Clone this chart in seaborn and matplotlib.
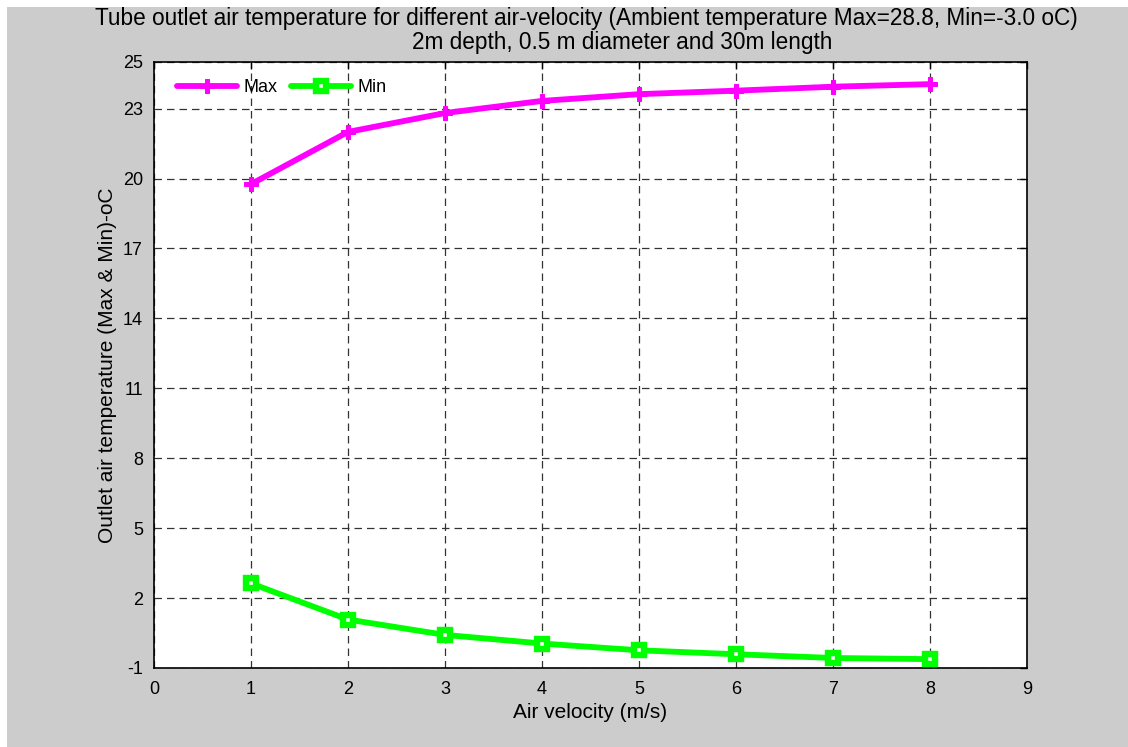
import matplotlib
matplotlib.use("Agg")
import matplotlib.pyplot as plt
import seaborn as sns
import pandas as pd
from matplotlib.patches import Rectangle

# data
velocity = [1, 2, 3, 4, 5, 6, 7, 8]
t_max = [19.76, 22.0, 22.81, 23.33, 23.62, 23.77, 23.94, 24.05]
t_min = [2.63, 1.08, 0.42, 0.05, -0.24, -0.41, -0.57, -0.62]
y_ticks = [-1, 2, 5, 8, 11, 14, 17, 20, 23, 25]
x_ticks = [0, 1, 2, 3, 4, 5, 6, 7, 8, 9]
title1 = "Tube outlet air temperature for different air-velocity (Ambient temperature Max=28.8, Min=-3.0 oC)"
title2 = "2m depth, 0.5 m diameter and 30m length"

sns.set_style("white")
plt.rcParams['font.family'] = ['Liberation Sans', 'DejaVu Sans']
plt.rcParams['text.color'] = 'black'
plt.rcParams['axes.labelcolor'] = 'black'
plt.rcParams['axes.unicode_minus'] = False

W, H = 1128, 747
fig = plt.figure(figsize=(W / 100, H / 100), dpi=100, facecolor="white")
fig.patches.append(Rectangle((7 / W, 0), 1 - 7 / W, 1 - 7 / H, transform=fig.transFigure,
                             facecolor="#cccccc", edgecolor="none", zorder=-10))

ax = fig.add_axes([154 / W, 79 / H, 873 / W, 606 / H])
ax.set_facecolor("white")

df = pd.DataFrame({"v": velocity, "max": t_max, "min": t_min})
sns.lineplot(data=df, x="v", y="max", ax=ax, color="#ff00ff", lw=4.2,
             marker="P", markersize=10, markeredgecolor="#ff00ff", label="Max", zorder=3)
sns.lineplot(data=df, x="v", y="min", ax=ax, color="#00ff00", lw=4.2,
             marker="s", markersize=7.5, markerfacecolor="white", markeredgecolor="#00ff00",
             markeredgewidth=4.6, label="Min", zorder=3)

ax.set_xlim(0, 9)
ax.set_ylim(-1, 25)
ax.set_xticks(x_ticks)
ax.set_yticks(y_ticks)
ax.tick_params(direction="in", length=5, width=1, top=True, right=True,
               labelsize=13, colors="black", pad=8)
ax.tick_params(axis="x", pad=9)
for s in ax.spines.values():
    s.set_color("black")
    s.set_linewidth(1.2)
    s.set_visible(True)
ax.grid(True, linestyle=(0, (6, 4)), color="#333333", linewidth=0.9)
ax.set_axisbelow(True)

ax.set_xlabel("Air velocity (m/s)", fontsize=15, labelpad=4)
ax.set_ylabel("Outlet air temperature (Max & Min)-oC", fontsize=15, labelpad=4)

leg = ax.legend(loc="upper left", ncol=2, frameon=False, fontsize=13,
                handlelength=3.3, columnspacing=0.8, handletextpad=0.35,
                borderaxespad=0.3, bbox_to_anchor=(0.012, 0.993))

fig.text(586 / W, 1 - 19 / H, title1, ha="center", va="center", fontsize=16.3)
fig.text(622 / W, 1 - 42 / H, title2, ha="center", va="center", fontsize=16.3)

fig.savefig("out.png", dpi=100, facecolor=fig.get_facecolor())
